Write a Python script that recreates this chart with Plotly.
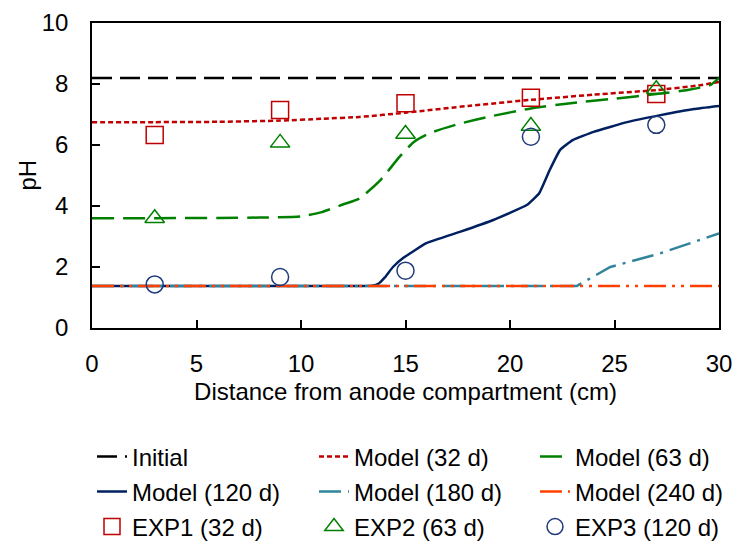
import plotly.graph_objects as go

# ---- data ----
x_initial = [0, 30]
ph_initial = [8.2, 8.2]

x_m32 = [0, 3, 6, 9, 11, 12.8, 15, 18, 21, 24, 27, 29, 30]
ph_m32 = [6.75, 6.75, 6.76, 6.8, 6.86, 6.92, 7.06, 7.28, 7.48, 7.65, 7.8, 7.95, 8.07]

x_m63 = [0, 3, 6, 8, 10, 11, 12, 12.8, 13.8, 14.7, 15.4, 16.2, 17.6, 19, 21, 23, 25, 27, 28.5, 29.6, 30]
ph_m63 = [3.6, 3.6, 3.61, 3.62, 3.66, 3.8, 4.05, 4.25, 4.85, 5.6, 6.1, 6.4, 6.7, 6.93, 7.2, 7.38, 7.52, 7.67, 7.8, 7.97, 8.2]

x_m120 = [0, 5, 10, 13.0, 13.4, 13.7, 14.0, 14.4, 14.9, 16, 17.6, 19.2, 20.8, 21.4, 21.9, 22.4, 23, 24, 25.6, 27.2, 28.8, 30]
ph_m120 = [1.38, 1.38, 1.38, 1.38, 1.39, 1.45, 1.65, 2.0, 2.3, 2.78, 3.15, 3.54, 4.03, 4.42, 5.18, 5.84, 6.16, 6.43, 6.75, 6.98, 7.18, 7.28]

x_m180 = [0, 10, 20, 23.2, 24.8, 27.2, 28.1, 30]
ph_m180 = [1.38, 1.38, 1.38, 1.38, 2.0, 2.45, 2.66, 3.1]

x_m240 = [0, 30]
ph_m240 = [1.38, 1.38]

x_exp = [3, 9, 15, 21, 27]
ph_exp1 = [6.33, 7.15, 7.37, 7.55, 7.67]
ph_exp2 = [3.6, 6.07, 6.36, 6.62, 7.83]
ph_exp3 = [1.43, 1.67, 1.88, 6.27, 6.66]

FONT = "Arial, Liberation Sans, sans-serif"
FS = 24
W, H = 737, 542
ML, MR = 92, 18

# legend grid (3 columns x 3 rows), one legend per entry
LEG_COL_X = [92, 314, 535]
LEG_ROW_Y = [457, 492, 527]

fig = go.Figure()
legends = {}

def legend_for(idx):
    key = "legend" if idx == 0 else f"legend{idx + 1}"
    r, c = divmod(idx, 3)
    legends[key] = dict(xref="container", yref="container",
                        x=LEG_COL_X[c] / W, y=1 - LEG_ROW_Y[r] / H,
                        xanchor="left", yanchor="middle",
                        font=dict(family=FONT, size=FS, color="#000000"),
                        bgcolor="rgba(0,0,0,0)", borderwidth=0, itemwidth=30)
    return key

counter = [0]

def line(x, y, name, color, dash, width, smooth=0.5):
    key = legend_for(counter[0]); counter[0] += 1
    fig.add_trace(go.Scatter(x=x, y=y, mode="lines", name=name,
                             line=dict(color=color, dash=dash, width=width,
                                       shape="spline" if smooth else "linear", smoothing=smooth or 1),
                             legend=key))

def pts(y, name, sym, color):
    key = legend_for(counter[0]); counter[0] += 1
    fig.add_trace(go.Scatter(x=x_exp, y=y, mode="markers", name=name,
                             marker=dict(symbol=sym, size=17, color=color,
                                         line=dict(color=color, width=1.5)),
                             legend=key))

line(x_initial, ph_initial, "Initial", "#000000", "20px,8px", 2.5, 0)
line(x_m32, ph_m32, "Model (32 d)", "#C00000", "5px,3px", 2.5)
line(x_m63, ph_m63, "Model (63 d)", "#008000", "22px,9px", 2.5)
line(x_m120, ph_m120, "Model (120 d)", "#002060", "solid", 2.5, 0.35)
line(x_m180, ph_m180, "Model (180 d)", "#31849B", "22px,7px,3px,7px", 2.5, 0)
line(x_m240, ph_m240, "Model (240 d)", "#FF4000", "22px,6px,3px,6px,3px,6px", 2.5, 0)
pts(ph_exp1, "EXP1 (32 d)", "square-open", "#C00000")
pts(ph_exp2, "EXP2 (63 d)", "triangle-up-open", "#008000")
pts(ph_exp3, "EXP3 (120 d)", "circle-open", "#1F3A7A")

fig.update_layout(
    width=W, height=H,
    margin=dict(l=ML, r=MR, t=23, b=214, autoexpand=False),
    paper_bgcolor="white", plot_bgcolor="white",
    font=dict(family=FONT, size=FS, color="#000000"),
    showlegend=True,
    annotations=[dict(text="pH", textangle=-90, xref="paper", yref="paper",
                      x=(27 - ML) / (W - ML - MR), y=0.5, xanchor="center", yanchor="middle",
                      showarrow=False, font=dict(family=FONT, size=FS, color="#000000"))],
    **legends,
)

fig.update_xaxes(range=[0, 30], dtick=5, tick0=0, ticks="inside", ticklen=8, tickwidth=1.5,
                 tickcolor="#000", showline=True, linecolor="#000", linewidth=1.5, mirror=True,
                 showgrid=False, zeroline=False, ticklabelstandoff=13, automargin=False,
                 tickfont=dict(family=FONT, size=FS),
                 title=dict(text="Distance from anode compartment (cm)", standoff=8,
                            font=dict(family=FONT, size=FS)))
fig.update_yaxes(range=[0, 10], dtick=2, tick0=0, ticks="inside", ticklen=8, tickwidth=1.5,
                 tickcolor="#000", showline=True, linecolor="#000", linewidth=1.5, mirror=True,
                 showgrid=False, zeroline=False, ticklabelstandoff=17, automargin=False,
                 tickfont=dict(family=FONT, size=FS))

fig.write_html("out.html")
